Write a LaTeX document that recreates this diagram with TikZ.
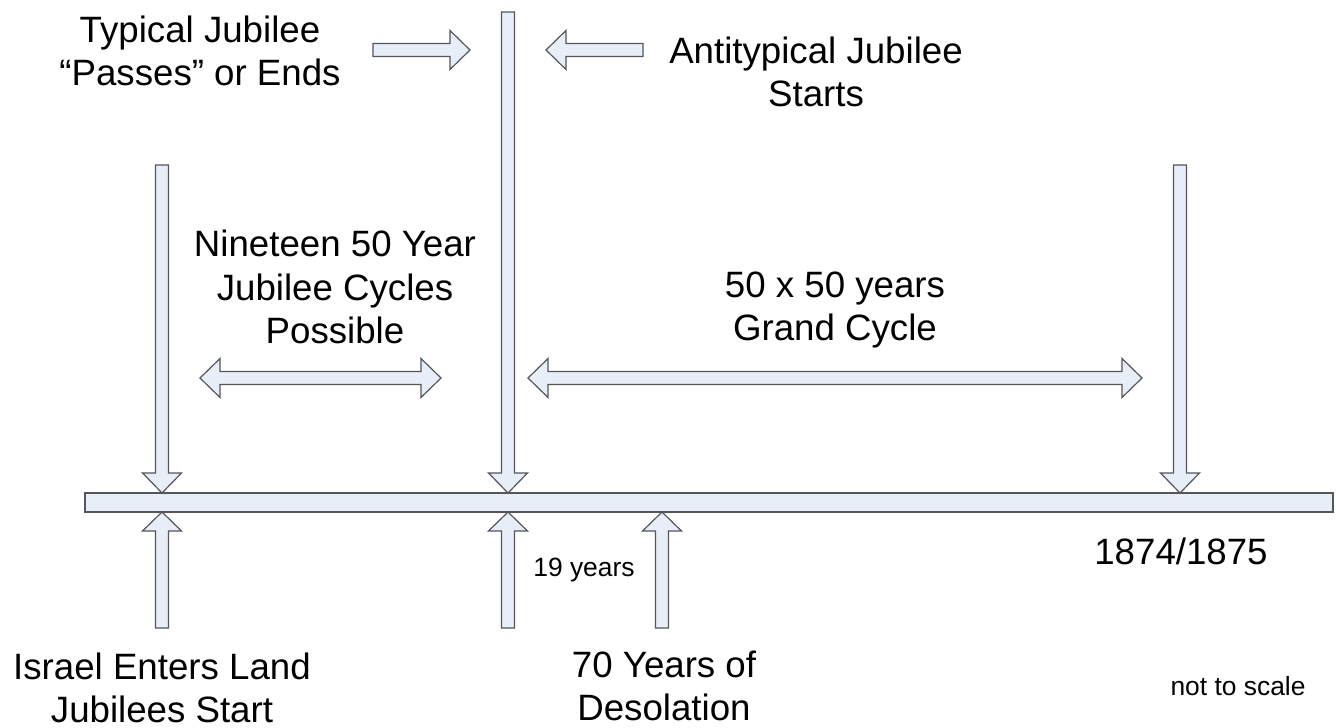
\documentclass[tikz,border=0pt]{standalone}
\usepackage{fontspec}
\setmainfont{Liberation Sans}
\definecolor{arrfill}{RGB}{232,238,248}
\definecolor{arrline}{RGB}{85,85,90}
\newcommand{\downarr}[3]{%
 \draw[arrstyle] ({#1-6.5},#2) -- ({#1+6.5},#2) -- ({#1+6.5},{#3-20}) -- ({#1+19.5},{#3-20}) -- (#1,#3) -- ({#1-19.5},{#3-20}) -- ({#1-6.5},{#3-20}) -- cycle;}
\newcommand{\uparr}[3]{%
 \draw[arrstyle] ({#1-6.5},#2) -- ({#1+6.5},#2) -- ({#1+6.5},{#3+19}) -- ({#1+19.5},{#3+19}) -- (#1,#3) -- ({#1-19.5},{#3+19}) -- ({#1-6.5},{#3+19}) -- cycle;}
\newcommand{\rightarr}[3]{% xstart, xtip, y
 \draw[arrstyle] (#1,{#3-6.5}) -- (#1,{#3+6.5}) -- ({#2-20},{#3+6.5}) -- ({#2-20},{#3+19.5}) -- (#2,#3) -- ({#2-20},{#3-19.5}) -- ({#2-20},{#3-6.5}) -- cycle;}
\newcommand{\leftarr}[3]{% xstart, xtip, y
 \draw[arrstyle] (#1,{#3-6.5}) -- (#1,{#3+6.5}) -- ({#2+20},{#3+6.5}) -- ({#2+20},{#3+19.5}) -- (#2,#3) -- ({#2+20},{#3-19.5}) -- ({#2+20},{#3-6.5}) -- cycle;}
\newcommand{\dblarr}[3]{% xlefttip, xrighttip, y
 \draw[arrstyle] (#1,#3) -- ({#1+20},{#3-19.5}) -- ({#1+20},{#3-6.5}) -- ({#2-20},{#3-6.5}) -- ({#2-20},{#3-19.5}) -- (#2,#3) -- ({#2-20},{#3+19.5}) -- ({#2-20},{#3+6.5}) -- ({#1+20},{#3+6.5}) -- ({#1+20},{#3+19.5}) -- cycle;}
\begin{document}
\begin{tikzpicture}[x=0.75pt,y=-0.75pt,
  arrstyle/.style={draw=arrline,fill=arrfill,line width=0.9pt,line join=miter},
  big/.style={align=center,font=\fontsize{27.5}{32.8}\selectfont,inner sep=0pt},
  small/.style={align=center,font=\fontsize{19.8}{23}\selectfont,inner sep=0pt}]
\useasboundingbox (0,0) rectangle (1336,728);
% timeline bar
\draw[arrstyle] (85,493) rectangle (1333,512);
% vertical arrows
\downarr{162}{165}{493}
\downarr{508}{12}{493}
\downarr{1180}{165}{493}
\uparr{162}{628}{512}
\uparr{508}{628}{512}
\uparr{662}{628}{512}
% horizontal arrows
\rightarr{373}{470}{50}
\leftarr{643}{546}{50}
\dblarr{200}{441}{378}
\dblarr{528}{1142}{378}
% texts
\node[big] (typ) at (200,51) {Typical Jubilee\\“Passes” or Ends};
\node[big] (anti) at (816,72) {Antitypical Jubilee\\Starts};
\node[big] (nine) at (335,287) {Nineteen 50 Year\\Jubilee Cycles\\Possible};
\node[big] (grand) at (835,310) {50 x 50 years\\Grand Cycle};
\node[big] (yr) at (1181,551) {1874/1875};
\node[small] (ny) at (584,570) {19 years};
\node[big] (isr) at (162,688) {Israel Enters Land\\Jubilees Start};
\node[big] (des) at (664,686) {70 Years of\\Desolation};
\node[small] (nts) at (1238,686) {not to scale};
\end{tikzpicture}
\end{document}
